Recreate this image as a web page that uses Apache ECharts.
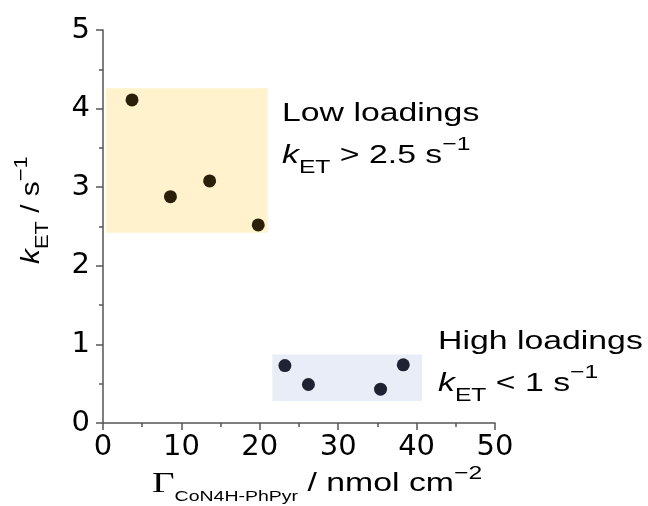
<!DOCTYPE html>
<html>
<head>
<meta charset="utf-8">
<script src="https://cdn.jsdelivr.net/npm/echarts@6/dist/echarts.min.js"></script>
<style>
html,body{margin:0;padding:0;background:#fff;}
#chart{width:648px;height:506px;}
</style>
</head>
<body>
<div id="chart"></div>
<script>
// ---- data ----
const lowX  = [3.7, 8.6, 13.6, 19.8];
const lowY  = [4.11, 2.88, 3.08, 2.52];
const highX = [23.2, 26.2, 35.4, 38.3];
const highY = [0.73, 0.49, 0.43, 0.74];
// shaded regions: [xStart, yStart, xEnd, yEnd]
const lowBox  = [0.4, 2.42, 21.0, 4.26];
const highBox = [21.6, 0.28, 40.7, 0.87];
const xTicks = [0, 10, 20, 30, 40, 50];
const yTicks = [0, 1, 2, 3, 4, 5];

const FONT = 'Liberation Sans, Arial, sans-serif';
const AXC = '#555555';
const SX = 1.3;

function pairs(xs, ys){ return xs.map((x,i)=>[x, ys[i]]); }

const richAnno = {
  m:   {fontSize: 26, fontFamily: FONT, lineHeight: 42, fill: '#000'},
  i:   {fontSize: 26, fontFamily: FONT, lineHeight: 42, fontStyle: 'italic', fill: '#000'},
  sub: {fontSize: 19, fontFamily: FONT, lineHeight: 17, verticalAlign: 'bottom', fill: '#000'},
  sup: {fontSize: 19, fontFamily: FONT, lineHeight: 19, verticalAlign: 'top', fill: '#000'}
};
const richY = {
  m:   {fontSize: 26, fontFamily: FONT, lineHeight: 40, fill: '#000'},
  i:   {fontSize: 26, fontFamily: FONT, lineHeight: 40, fontStyle: 'italic', fill: '#000'},
  sub: {fontSize: 19, fontFamily: FONT, lineHeight: 15, verticalAlign: 'bottom', fill: '#000'},
  sup: {fontSize: 19, fontFamily: FONT, lineHeight: 17, verticalAlign: 'top', fill: '#000'}
};
const richX = {
  g:   {fontSize: 30, fontFamily: 'Liberation Serif, Times New Roman, serif', lineHeight: 40, fill: '#000'},
  m:   {fontSize: 26, fontFamily: FONT, lineHeight: 40, fill: '#000'},
  sub: {fontSize: 15, fontFamily: FONT, lineHeight: 8, verticalAlign: 'bottom', fill: '#000'},
  sup: {fontSize: 19, fontFamily: FONT, lineHeight: 3, verticalAlign: 'top', fill: '#000'}
};

const chart = echarts.init(document.getElementById('chart'), null, {renderer: 'canvas'});
const axisCommon = {
  axisLine: {show: true, onZero: false, lineStyle: {color: AXC, width: 1.5}},
  axisTick: {show: true, inside: false, length: 7, lineStyle: {color: AXC, width: 1.5}},
  minorTick: {show: true, splitNumber: 2, length: 4, lineStyle: {color: AXC, width: 1.5}},
  splitLine: {show: false},
  minorSplitLine: {show: false}
};
chart.setOption({
  animation: false,
  backgroundColor: '#fff',
  grid: {left: 103, right: 153, top: 30, bottom: 83, containLabel: false, outerBoundsMode: 'none'},
  xAxis: Object.assign({
    type: 'value', min: xTicks[0], max: xTicks[xTicks.length-1], interval: xTicks[1]-xTicks[0],
    axisLabel: {fontFamily: 'DejaVu Sans', fontSize: 29, color: '#000', margin: 10}
  }, axisCommon),
  yAxis: Object.assign({
    type: 'value', min: yTicks[0], max: yTicks[yTicks.length-1], interval: yTicks[1]-yTicks[0],
    axisLabel: {fontFamily: 'DejaVu Sans', fontSize: 29, color: '#000', margin: 13}
  }, axisCommon),
  series: [
    {
      name: 'Low loadings', type: 'scatter', symbol: 'circle', symbolSize: 13,
      itemStyle: {color: '#2a200a', opacity: 1},
      data: pairs(lowX, lowY),
      markArea: {
        silent: true,
        itemStyle: {color: '#fff2cc', opacity: 1},
        data: [[{xAxis: lowBox[0], yAxis: lowBox[3]}, {xAxis: lowBox[2], yAxis: lowBox[1]}]]
      }
    },
    {
      name: 'High loadings', type: 'scatter', symbol: 'circle', symbolSize: 13,
      itemStyle: {color: '#1e2232', opacity: 1},
      data: pairs(highX, highY),
      markArea: {
        silent: true,
        itemStyle: {color: '#e9edf7', opacity: 1},
        data: [[{xAxis: highBox[0], yAxis: highBox[3]}, {xAxis: highBox[2], yAxis: highBox[1]}]]
      }
    }
  ],
  graphic: [
    {type: 'text', x: 282, y: 93, scaleX: SX, silent: true,
     style: {text: '{m|Low loadings}\n{i|k}{sub|ET}{m| > 2.5 s}{sup|\u22121}', rich: richAnno, align: 'left', verticalAlign: 'top'}},
    {type: 'text', x: 438, y: 321, scaleX: SX, silent: true,
     style: {text: '{m|High loadings}\n{i|k}{sub|ET}{m| < 1 s}{sup|\u22121}', rich: richAnno, align: 'left', verticalAlign: 'top'}},
    // x-axis title
    {type: 'text', x: 152, y: 464, scaleX: SX, silent: true,
     style: {text: '{g|\u0393}{sub|CoN4H-PhPyr}{m| / nmol cm}{sup|\u22122}', rich: richX, align: 'left', verticalAlign: 'top'}},
    // y-axis title
    {type: 'text', x: 12, y: 264, rotation: Math.PI/2, scaleX: 1.15, silent: true,
     style: {text: '{i|k}{sub|ET}{m| / s}{sup|\u22121}', rich: richY, align: 'left', verticalAlign: 'top'}}
  ]
});
</script>
</body>
</html>
